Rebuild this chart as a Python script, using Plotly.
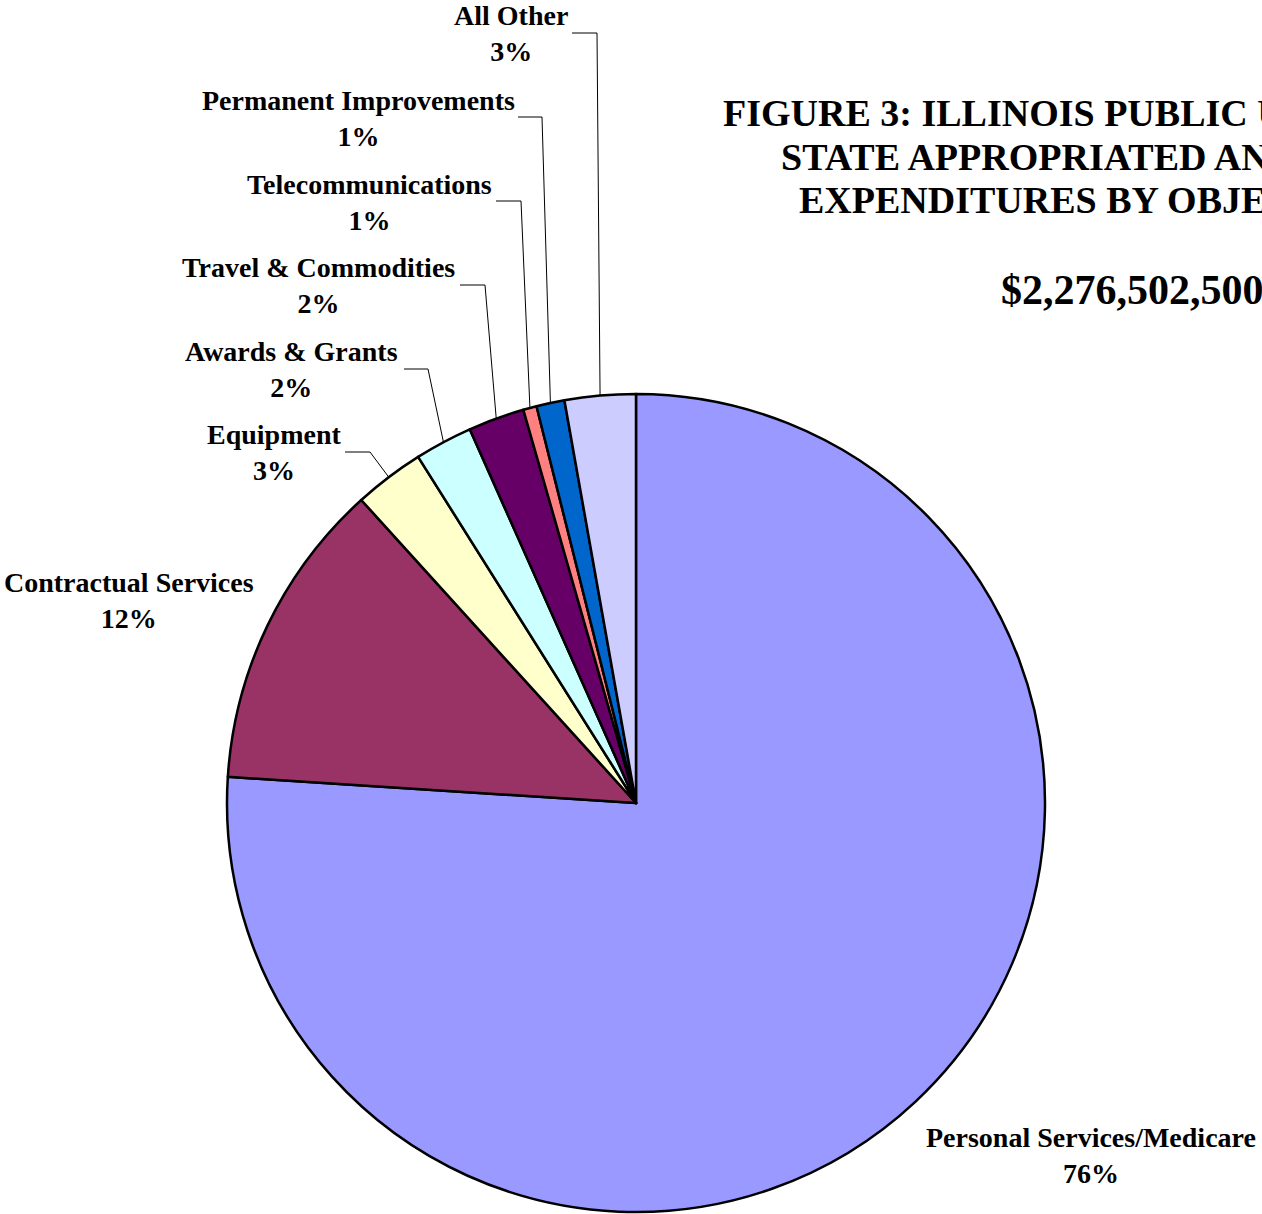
import math
import plotly.graph_objects as go

# ---- data ----
categories = ["Personal Services/Medicare", "Contractual Services", "Equipment",
              "Awards & Grants", "Travel & Commodities", "Telecommunications",
              "Permanent Improvements", "All Other"]
shares = [76.01, 12.26, 2.78, 2.28, 2.22, 0.53, 1.11, 2.80]
colors = ["#9999FF", "#993366", "#FFFFCC", "#CCFFFF", "#660066", "#FF8080",
          "#0066CC", "#CCCCFF"]
title_lines = ["FIGURE 3: ILLINOIS PUBLIC UNIVERSITIES",
               "STATE APPROPRIATED AND INCOME FUND",
               "EXPENDITURES BY OBJECT"]
total_text = "$2,276,502,500"

# ---- layout constants ----
W, H = 1262, 1214
CX, CY, R = 636, 803, 409
FONT = "Liberation Serif, Times New Roman, serif"

# label layout: center x, mid y, leader (start x, elbow x, y) or None
label_pos = {
    "Personal Services/Medicare": (1091, 1155, None),
    "Contractual Services": (129, 600, None),
    "Equipment": (274, 453, (345, 370, 452)),
    "Awards & Grants": (291, 369, (404, 428, 369)),
    "Travel & Commodities": (318, 286, (460, 485, 285)),
    "Telecommunications": (369, 202, (496, 521, 201)),
    "Permanent Improvements": (358, 118, (518, 542, 117)),
    "All Other": (511, 34, (572, 597, 33)),
}


def px(x):
    return x / W


def py(y):
    return 1 - y / H


fig = go.Figure(go.Pie(
    labels=categories, values=shares, sort=False, direction="clockwise",
    rotation=0, textinfo="none", hoverinfo="label+percent",
    marker=dict(colors=colors, line=dict(color="black", width=2.5)),
    domain=dict(x=[(CX - R) / W, (CX + R) / W], y=[(H - CY - R) / H, (H - CY + R) / H]),
    showlegend=False,
))

total = sum(shares)
annotations = []
shapes = []
cum = 0.0
for cat, v in zip(categories, shares):
    mid = (cum + v / 2) / total
    cum += v
    ang = 2 * math.pi * mid
    ex = CX + R * math.sin(ang)
    ey = CY - R * math.cos(ang)
    lx, ly, lead = label_pos[cat]
    pct = round(v / total * 100)
    annotations.append(dict(
        x=px(lx), y=py(ly), xref="paper", yref="paper", xanchor="center", yanchor="middle",
        text=f"<b>{cat}</b><br><b>{pct}%</b>", showarrow=False, align="center",
        font=dict(family=FONT, size=28, color="black"),
    ))
    if lead:
        sx, bx, by = lead
        shapes.append(dict(
            type="path", xref="paper", yref="paper",
            path=f"M {px(sx)} {py(by)} L {px(bx)} {py(by)} L {px(ex)} {py(ey)}",
            line=dict(color="black", width=1),
        ))

title_y = [113, 157, 200]
title_x = [721, 779, 797]
for t, x, y in zip(title_lines, title_x, title_y):
    annotations.append(dict(
        x=px(x), y=py(y), xref="paper", yref="paper", xanchor="left", yanchor="middle",
        text=f"<b>{t}</b>", showarrow=False,
        font=dict(family=FONT, size=38, color="black"),
    ))
annotations.append(dict(
    x=px(999), y=py(290), xref="paper", yref="paper", xanchor="left", yanchor="middle",
    text=f"<b>{total_text}</b>", showarrow=False,
    font=dict(family=FONT, size=42, color="black"),
))

fig.update_layout(
    width=W, height=H, margin=dict(l=0, r=0, t=0, b=0),
    paper_bgcolor="white", plot_bgcolor="white",
    annotations=annotations, shapes=shapes,
)

fig.write_html("out.html")
